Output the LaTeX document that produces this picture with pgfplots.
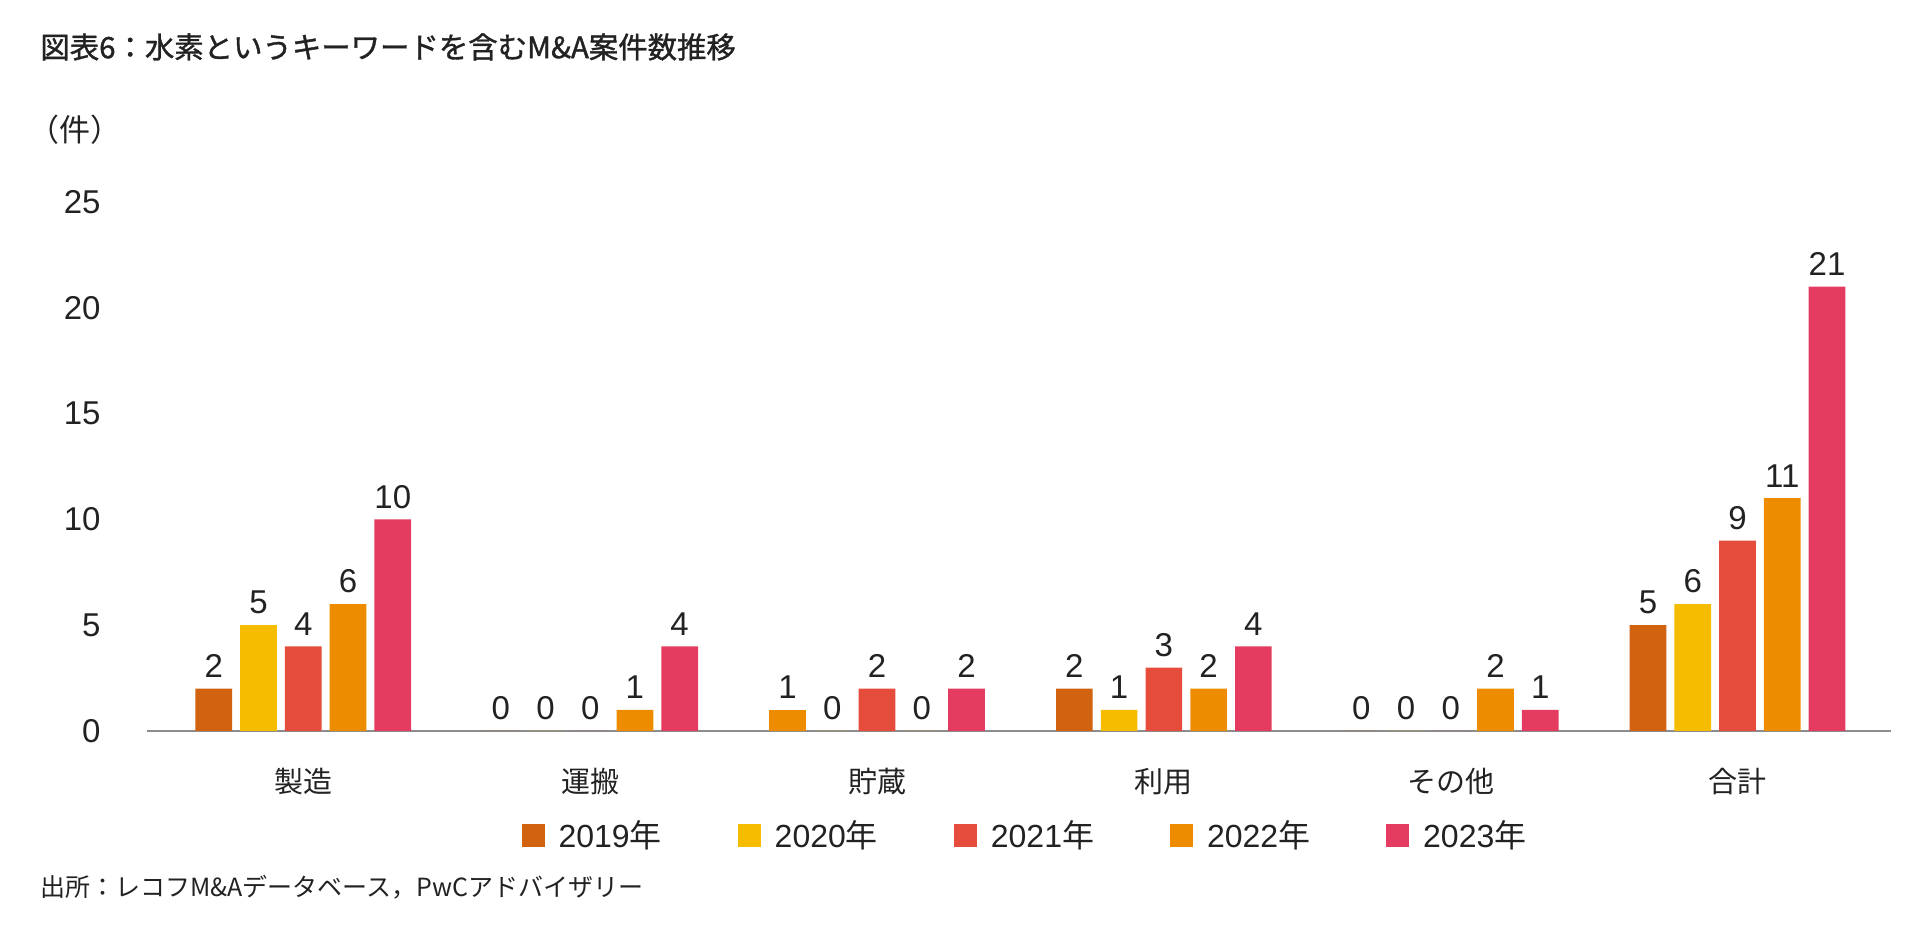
\documentclass[border=0pt]{standalone}
\usepackage{pgfplots}
\pgfplotsset{compat=1.18}
\usepackage{fontspec}
\setmainfont{Liberation Sans}
\newfontfamily\jp{Noto Sans CJK JP}
\newfontfamily\jpt[FakeBold=1.2]{Noto Sans CJK JP}
\definecolor{c19}{HTML}{D06210}
\definecolor{c20}{HTML}{F6BC00}
\definecolor{c21}{HTML}{E54C3C}
\definecolor{c22}{HTML}{EE8C00}
\definecolor{c23}{HTML}{E43B60}
\definecolor{txt}{HTML}{222222}
\definecolor{axisgrey}{HTML}{8C8C8C}
\begin{document}
\begin{tikzpicture}
\path[use as bounding box] (0,0) rectangle (959.5bp,469bp);
\node[anchor=west, inner sep=0pt, text=txt, font=\jpt\fontsize{14.7bp}{18bp}\selectfont] at (20bp,445.5bp) {図表6：水素というキーワードを含むM\&A案件数推移};
\node[anchor=west, inner sep=0pt, text=txt, font=\jp\fontsize{15.5bp}{18bp}\selectfont] at (14bp,404bp) {（件）};
\node[anchor=west, inner sep=0pt, text=txt, font=\jp\fontsize{12.5bp}{15bp}\selectfont] at (20bp,25.5bp) {出所：レコフM\&Aデータベース，PwCアドバイザリー};
\begin{axis}[
  at={(73.5bp,103.5bp)}, anchor=south west,
  scale only axis, width=872bp, height=264.5bp,
  ybar, bar width=0.128,
  xmin=-0.545, xmax=5.535, ymin=0, ymax=25,
  axis x line*=bottom, axis y line*=left,
  axis line style={-},
  x axis line style={draw=axisgrey, line width=1bp},
  y axis line style={draw=none},
  xtick={0,1,2,3,4,5},
  xticklabels={製造,運搬,貯蔵,利用,その他,合計},
  xtick style={draw=none}, ytick style={draw=none},
  ytick={0,5,10,15,20,25},
  /pgf/number format/assume math mode=true,
  yticklabel style={anchor=east, inner sep=0pt, xshift=-23bp, text=txt, font=\fontsize{16.5bp}{19bp}\selectfont},
  xticklabel style={anchor=center, inner sep=0pt, yshift=-21bp, text=txt, font=\jp\fontsize{14.5bp}{17bp}\selectfont},
  nodes near coords,
  every node near coord/.append style={text=txt, font=\fontsize{16.5bp}{19bp}\selectfont, yshift=2bp},
  clip=false,
  every axis plot/.append style={draw=none, legend image code/.code={\fill[##1] (0bp,-5.75bp) rectangle (11.5bp,5.75bp);}},
  legend columns=5,
  legend style={at={(0.504,-0.197)}, anchor=center, draw=none, fill=none,
    font=\fontsize{16bp}{19bp}\selectfont, text=txt,
    /tikz/every odd column/.append style={column sep=5bp},
    /tikz/every even column/.append style={column sep=36bp}},
]
\addplot[fill=c19, bar shift=-0.312] coordinates {(0,2) (1,0) (3,2) (4,0) (5,5)};
\addplot[fill=c20, bar shift=-0.156] coordinates {(0,5) (1,0) (2,0) (3,1) (4,0) (5,6)};
\addplot[fill=c21, bar shift=0] coordinates {(0,4) (1,0) (2,2) (3,3) (4,0) (5,9)};
\addplot[fill=c22, bar shift=0.156] coordinates {(0,6) (1,1) (2,0) (3,2) (4,2) (5,11)};
\addplot[fill=c23, bar shift=0.312] coordinates {(0,10) (1,4) (2,2) (3,4) (4,1) (5,21)};
\addplot[fill=c22, bar shift=-0.312, forget plot] coordinates {(2,1)};
\legend{2019{\jp 年},2020{\jp 年},2021{\jp 年},2022{\jp 年},2023{\jp 年}}
\end{axis}
\end{tikzpicture}
\end{document}
